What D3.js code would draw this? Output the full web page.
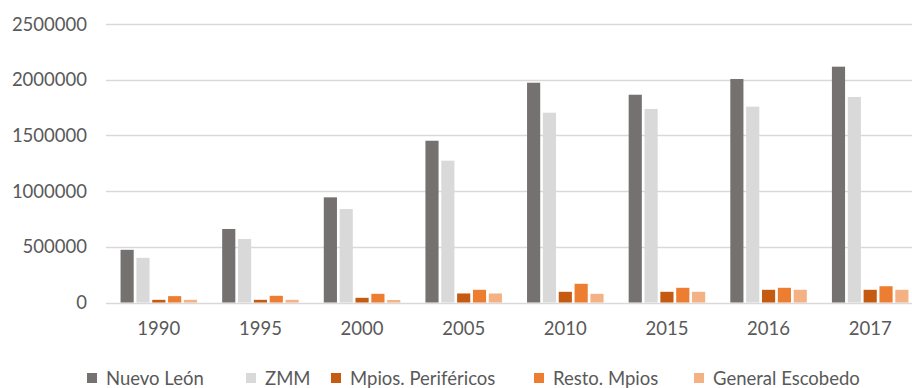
<!DOCTYPE html>
<html><head><meta charset="utf-8">
<script src="https://cdn.jsdelivr.net/npm/d3@7"></script>
<style>html,body{margin:0;padding:0;background:#fff;overflow:hidden}</style>
</head><body>
<svg id="c" width="912" height="388"></svg>
<script>
const years = ["1990","1995","2000","2005","2010","2015","2016","2017"];
const seriesNames = ["Nuevo León","ZMM","Mpios. Periféricos","Resto. Mpios","General Escobedo"];
const nuevoLeon = [473000, 660000, 944000, 1452000, 1973000, 1865000, 2006000, 2117000];
const zmm = [401000, 570000, 839000, 1273000, 1704000, 1737000, 1758000, 1845000];
const mpiosPerifericos = [24000, 24000, 42000, 81000, 96000, 96000, 114000, 114000];
const restoMpios = [57000, 60000, 78000, 114000, 168000, 132000, 132000, 146000];
const generalEscobedo = [24000, 24000, 22000, 81000, 78000, 96000, 114000, 114000];
const yTicks = [0, 500000, 1000000, 1500000, 2000000, 2500000];
const colors = ["#767171","#D9D9D9","#C55A11","#ED7D31","#F4B183"];

const seriesValues = [nuevoLeon, zmm, mpiosPerifericos, restoMpios, generalEscobedo];
const svg = d3.select("#c");
const font = "Lato, 'Open Sans', sans-serif";
const textColor = "#595959";

const y = d3.scaleLinear().domain([0, 2500000]).range([302.5, 24]);
const x0 = d3.scaleBand().domain(years).range([108, 921]).paddingInner(0.247).paddingOuter(0.1235);
const x1 = d3.scaleBand().domain(seriesNames).range([0, x0.bandwidth()]).paddingInner(0.17);

// gridlines
svg.append("g").selectAll("line").data(yTicks).join("line")
  .attr("x1", 106).attr("x2", 912)
  .attr("y1", d => Math.round(y(d)) + 0.5).attr("y2", d => Math.round(y(d)) + 0.5)
  .attr("stroke", "#d9d9d9").attr("stroke-width", 1.3);

// y labels
svg.append("g").selectAll("text").data(yTicks).join("text")
  .attr("x", 87).attr("y", d => y(d)).attr("dy", "0.36em")
  .attr("text-anchor", "end").attr("font-family", font).attr("font-size", 18.5)
  .attr("fill", textColor).text(d => d3.format("d")(d));

// bars
const groups = svg.append("g").selectAll("g").data(years).join("g")
  .attr("transform", d => `translate(${x0(d)},0)`);
groups.selectAll("rect").data((d, i) => seriesNames.map((s, j) => ({s, v: seriesValues[j][i], j})))
  .join("rect")
  .attr("x", d => x1(d.s)).attr("width", x1.bandwidth())
  .attr("y", d => y(d.v)).attr("height", d => y(0) - y(d.v))
  .attr("fill", d => colors[d.j]);

// x labels
svg.append("g").selectAll("text").data(years).join("text")
  .attr("x", d => x0(d) + x0.bandwidth() / 2).attr("y", 328).attr("dy", "0.36em")
  .attr("text-anchor", "middle").attr("font-family", font).attr("font-size", 18.5)
  .attr("fill", textColor).text(d => d);

// legend
const legendX = [87, 246, 331, 534, 694];
const lg = svg.append("g").selectAll("g").data(seriesNames).join("g")
  .attr("transform", (d, i) => `translate(${legendX[i]},373)`);
lg.append("rect").attr("width", 10).attr("height", 10).attr("fill", (d, i) => colors[i]);
lg.append("text").attr("x", 19).attr("y", 5).attr("dy", "0.36em")
  .attr("font-family", font).attr("font-size", 18.5).attr("fill", textColor).text(d => d);
</script>
</body></html>
